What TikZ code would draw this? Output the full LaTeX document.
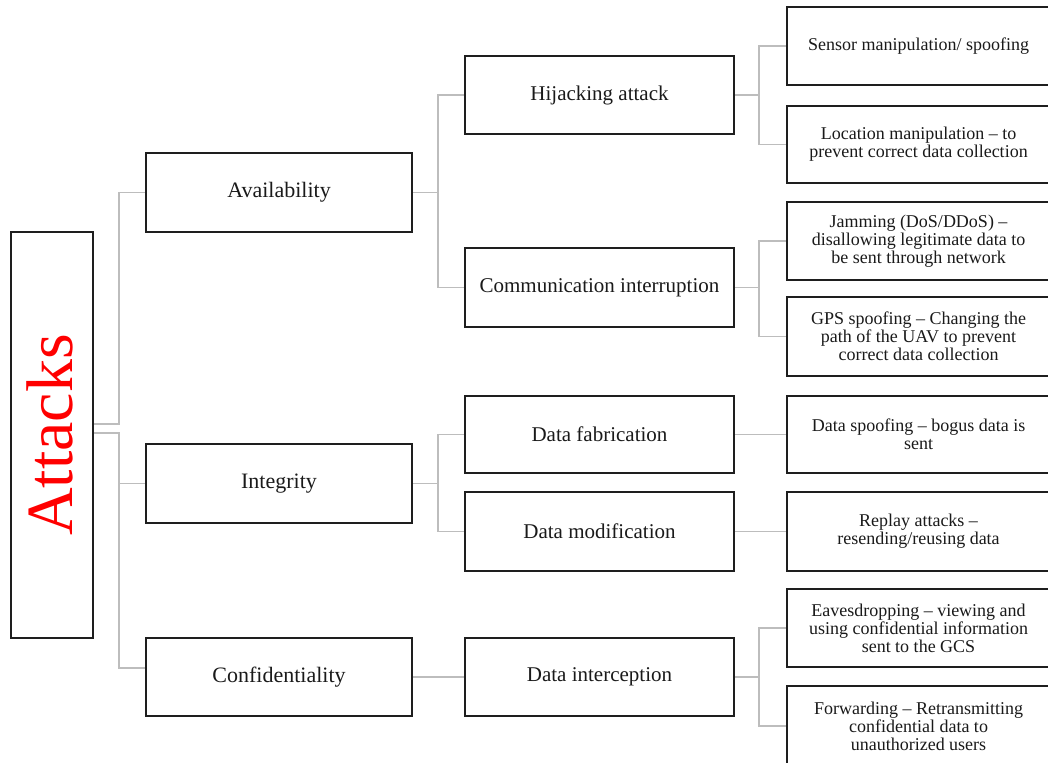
\documentclass[tikz,border=0pt]{standalone}
\usepackage{fontspec}
\setmainfont{Liberation Serif}
\pgfdeclarelayer{bg}
\pgfsetlayers{bg,main}
\definecolor{boxline}{HTML}{1E1E1E}
\definecolor{connline}{HTML}{BDBDBD}
\definecolor{txt}{HTML}{1A1A1A}
\begin{document}
\begin{tikzpicture}[x=1pt,y=-1pt,
  box/.style={draw=boxline,line width=2pt,fill=white,inner sep=0pt,align=center,text=txt},
  lvlone/.style={box,minimum width=266,minimum height=78,font=\fontsize{22}{26}\selectfont},
  lvltwo/.style={box,minimum width=269,minimum height=78,font=\fontsize{21}{25}\selectfont},
  lvlthree/.style={box,minimum width=263,minimum height=78,font=\fontsize{18}{18}\selectfont},
  conn/.style={draw=connline,line width=1.8pt}]
\useasboundingbox (0,0) rectangle (1048,762);
\clip (0,0) rectangle (1048,762);
% root
\node[box,minimum width=82,minimum height=406] (att) at (52,435) {};
\node[rotate=90,text=red,font=\fontsize{66}{70}\selectfont,inner sep=0pt] (attlbl) at (49.5,435) {Attacks};
% level one
\node[lvlone] (avail) at (279,192.5) {Availability};
\node[lvlone,minimum height=79] (integ) at (279,483.5) {Integrity};
\node[lvlone] (conf) at (279,677) {Confidentiality};
% level two
\node[lvltwo] (hij) at (599.5,95) {Hijacking attack};
\node[lvltwo,minimum height=79] (comm) at (599.5,287.5) {Communication interruption};
\node[lvltwo,minimum height=77] (dfab) at (599.5,434.5) {Data fabrication};
\node[lvltwo,minimum height=79] (dmod) at (599.5,531.5) {Data modification};
\node[lvltwo] (dint) at (599.5,677) {Data interception};
% level three
\node[lvlthree] (sens) at (918.5,46) {Sensor manipulation/ spoofing};
\node[lvlthree,minimum height=77] (loc) at (918.5,144.5) {Location manipulation -- to\\prevent correct data collection};
\node[lvlthree] (jam) at (918.5,241) {Jamming (DoS/DDoS) --\\disallowing legitimate data to\\be sent through network};
\node[lvlthree,minimum height=79] (gps) at (918.5,336.5) {GPS spoofing -- Changing the\\path of the UAV to prevent\\correct data collection};
\node[lvlthree,minimum height=77] (dspoof) at (918.5,434.5) {Data spoofing -- bogus data is\\sent};
\node[lvlthree,minimum height=79] (replay) at (918.5,531.5) {Replay attacks --\\resending/reusing data};
\node[lvlthree] (eaves) at (918.5,628) {Eavesdropping -- viewing and\\using confidential information\\sent to the GCS};
\node[lvlthree,minimum height=80] (fwd) at (918.5,726) {Forwarding -- Retransmitting\\confidential data to\\unauthorized users};
% connectors
\begin{pgfonlayer}{bg}
\draw[conn] ([yshift=11pt]att.east) -- ++(25,0) |- (avail.west);
\draw[conn] ([yshift=2pt]att.east) -- ++(25,0) |- (integ.west);
\draw[conn] ([yshift=2pt]att.east) -- ++(25,0) |- ([yshift=9pt]conf.west);
\draw[conn] (avail.east) -- ++(25,0) |- (hij.west);
\draw[conn] (avail.east) -- ++(25,0) |- (comm.west);
\draw[conn] (integ.east) -- ++(25,0) |- (dfab.west);
\draw[conn] (integ.east) -- ++(25,0) |- (dmod.west);
\draw[conn] (conf.east) -- (dint.west);
\draw[conn] (hij.east) -- ++(24,0) |- (sens.west);
\draw[conn] (hij.east) -- ++(24,0) |- (loc.west);
\draw[conn] (comm.east) -- ++(24,0) |- (jam.west);
\draw[conn] (comm.east) -- ++(24,0) |- (gps.west);
\draw[conn] (dfab.east) -- (dspoof.west);
\draw[conn] (dmod.east) -- (replay.west);
\draw[conn] (dint.east) -- ++(24,0) |- (eaves.west);
\draw[conn] (dint.east) -- ++(24,0) |- (fwd.west);
\end{pgfonlayer}
\end{tikzpicture}
\end{document}
